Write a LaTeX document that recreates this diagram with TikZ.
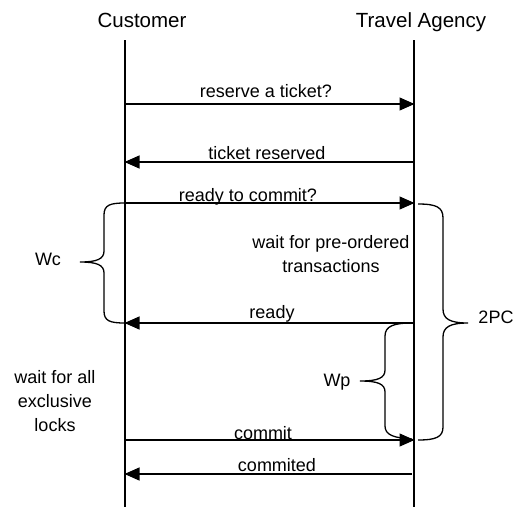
\documentclass[tikz,border=0pt]{standalone}
\usepackage{fontspec}
\setmainfont{Liberation Sans}
\usetikzlibrary{arrows.meta}
\begin{document}
\begin{tikzpicture}[x=1pt,y=-1pt,
  hdr/.style={font=\fontsize{20.5}{24}\selectfont, anchor=base, inner sep=0pt},
  lbl/.style={font=\fontsize{18}{24}\selectfont, anchor=base, inner sep=0pt},
  blk/.style={font=\fontsize{18}{24}\selectfont, align=center, inner sep=0pt},
  life/.style={line width=1.1pt},
  msg/.style={line width=1.2pt, -{Triangle[length=15pt,width=13pt]}, shorten >=-0.5pt},
  brc/.style={line width=1.3pt}]
\useasboundingbox (0,0) rectangle (519,507);
% headers
\node[hdr] (cust) at (142,27) {Customer};
\node[hdr] (ta) at (421,27) {Travel Agency};
% lifelines
\coordinate (ctop) at (125,40); \coordinate (cbot) at (125,507);
\coordinate (ttop) at (414,40); \coordinate (tbot) at (414,507);
\draw[life] (ctop) -- (cbot);
\draw[life] (ttop) -- (tbot);
% message endpoints
\coordinate (c1) at (125,104); \coordinate (t1) at (414,104);
\coordinate (c2) at (125,162); \coordinate (t2) at (414,162);
\coordinate (c3) at (125,203); \coordinate (t3) at (414,203);
\coordinate (c4) at (125,323); \coordinate (t4) at (414,323);
\coordinate (c5) at (125,440); \coordinate (t5) at (414,440);
\coordinate (c6) at (125,474); \coordinate (t6) at (412,474);
\draw[msg] (c1) -- (t1);
\draw[msg] (t2) -- (c2);
\draw[msg] (c3) -- (t3);
\draw[msg] (t4) -- (c4);
\draw[msg] (c5) -- (t5);
\draw[msg] (t6) -- (c6);
% message labels
\node[lbl] (m1) at (266,97) {reserve a ticket?};
\node[lbl] (m2) at (267,159) {ticket reserved};
\node[lbl] (m3) at (248,201) {ready to commit?};
\node[lbl] (m4) at (272,318) {ready};
\node[lbl] (m5) at (263,439) {commit};
\node[lbl] (m6) at (277,471) {commited};
% notes
\node[blk] (wpo) at (331,254) {wait for pre-ordered\\transactions};
\node[blk] (wal) at (55,401) {wait for all\\exclusive\\locks};
% Wc brace
\draw[brc] (c3) .. controls (110,203) and (104,205) .. (104,215)
  -- (104,251) .. controls (104,259) and (97,262) .. (80,262)
  .. controls (97,262) and (104,265) .. (104,273)
  -- (104,311) .. controls (104,321) and (110,323) .. (c4);
\node[lbl] (wc) at (48,265) {Wc};
% 2PC brace
\draw[brc] (418,204) .. controls (436,204) and (443,207) .. (443,218)
  -- (443,309) .. controls (443,319) and (450,323) .. (468,323)
  .. controls (450,323) and (443,327) .. (443,337)
  -- (443,427) .. controls (443,437) and (436,440) .. (418,440);
\node[lbl] (tpc) at (496,323) {2PC};
% Wp brace
\draw[brc] (412,323) .. controls (394,323) and (385,326) .. (385,336)
  -- (385,370) .. controls (385,378) and (378,381) .. (360,381)
  .. controls (378,381) and (385,384) .. (385,392)
  -- (385,426) .. controls (385,435) and (394,438) .. (412,439);
\node[lbl] (wp) at (337,386) {Wp};
\end{tikzpicture}
\end{document}
